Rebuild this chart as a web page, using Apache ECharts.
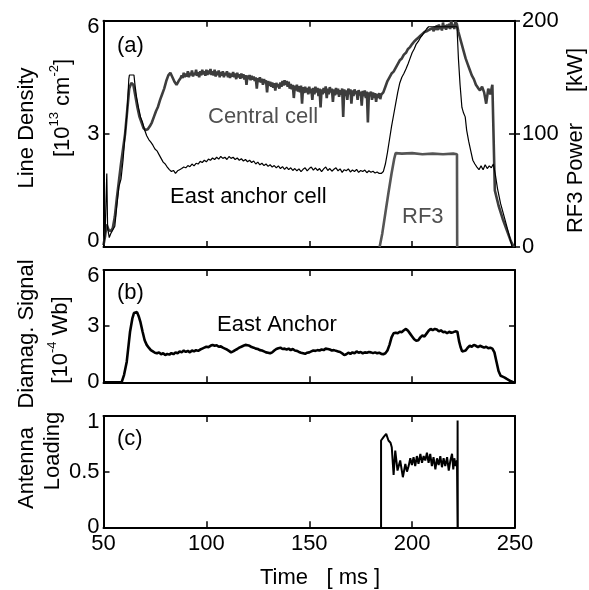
<!DOCTYPE html>
<html>
<head>
<meta charset="utf-8">
<script src="https://cdn.jsdelivr.net/npm/echarts@6/dist/echarts.min.js"></script>
<style>html,body{margin:0;padding:0;background:#fff;}#c{width:589px;height:590px;}</style>
</head>
<body>
<div id="c"></div>
<script>
// ---- tick labels ----
const timeTicks = [50, 100, 150, 200, 250];
const densityTicks = [0, 3, 6];
const rf3PowerTicks = [0, 100, 200];
const diamagTicks = [0, 3, 6];
const loadingTicks = [0, 0.5, 1];

// ---- (a) Central cell line density [1e13 cm^-2] : [time ms, value] ----
const centralCell = [
[50,0.05],[50.8,0.3],[51.5,0.6],[52.5,0.45],[53.5,0.42],[54.5,0.5],[55.5,0.8],[56.5,1.3],[57.5,1.75],[58.5,2.2],[59.5,2.6],[60.5,3.0],[61.5,3.6],[62.5,4.2],[63.5,4.35],[64.5,4.3],[65.5,4.0],[66.5,3.7],[67.5,3.45],[68.5,3.3],[69.5,3.15],[70.5,3.1],[71.5,3.12],[72.5,3.2],[73.5,3.3],[74.5,3.45],[75.5,3.6],[76.5,3.72],[77.5,3.9],[78.5,4.05],[79.5,4.2],[80.5,4.4],[81.5,4.55],[82.5,4.62],[83.5,4.5],[84.5,4.38],[85.5,4.3],[86.5,4.4],[87.5,4.48],
[88,4.55],[88.5,4.48],[89,4.62],[89.5,4.5],[90,4.6],[90.5,4.52],[91,4.66],[91.5,4.5],[92,4.62],[92.5,4.55],[93,4.68],[93.5,4.52],[94,4.62],[94.5,4.56],[95,4.7],[95.5,4.54],[96,4.63],[96.5,4.5],[97,4.66],[97.5,4.55],[98,4.7],[98.5,4.58],[99,4.66],[99.5,4.54],[100,4.7],[100.5,4.56],[101,4.68],[101.5,4.58],[102,4.72],[102.5,4.56],[103,4.66],[103.5,4.55],[104,4.7],[104.5,4.52],[105,4.65],[105.5,4.56],[106,4.68],[106.5,4.5],[107,4.64],[107.5,4.54],[108,4.66],[108.5,4.5],[109,4.62],[109.5,4.55],[110,4.66],[110.5,4.5],[111,4.62],[111.5,4.48],[112,4.6],[112.5,4.52],[113,4.64],[113.5,4.5],[114,4.6],[114.5,4.45],[115,4.62],[115.5,4.5],[116,4.58],[116.5,4.46],[117,4.6],[117.5,4.48],[118,4.58],[118.5,4.44],[119,4.56],[119.5,4.3],[120,4.55],[120.5,4.45],[121,4.56],[121.5,4.42],[122,4.54],[122.5,4.44],[123,4.52],[123.5,4.4],[124,4.5],[124.5,4.2],[125,4.48],[125.5,4.38],[126,4.5],[126.5,4.36],[127,4.46],[127.5,4.3],[128,4.45],[128.5,4.35],[129,4.42],[129.5,4.1],[130,4.4],[130.5,4.28],[131,4.38],[131.5,4.25],[132,4.36],[132.5,4.22],[133,4.34],[133.5,4.15],[134,4.35],[134.5,4.24],[135,4.32],[135.5,4.2],[136,4.36],[136.5,4.25],[137,4.4],[137.5,4.28],[138,4.42],[138.5,4.3],[139,4.4],[139.5,4.25],[140,4.38],[140.5,4.2],[141,4.32],[141.5,4.18],[142,4.3],[142.5,3.95],[143,4.28],[143.5,4.15],[144,4.3],[144.5,4.12],[145,4.26],[145.5,4.1],[146,4.28],[146.5,3.8],[147,4.24],[147.5,4.08],[148,4.25],[148.5,4.1],[149,4.22],[149.5,4.05],[150,4.25],[150.5,4.08],[151,4.2],[151.5,3.9],[152,4.22],[152.5,4.05],[153,4.25],[153.5,4.1],[154,4.22],[154.5,4.0],[155,4.2],[155.5,3.7],[156,4.18],[156.5,4.05],[157,4.22],[157.5,4.08],[158,4.26],[158.5,3.95],[159,4.2],[159.5,4.05],[160,4.24],[160.5,4.1],[161,4.2],[161.5,3.85],[162,4.18],[162.5,4.02],[163,4.22],[163.5,4.05],[164,4.2],[164.5,3.98],[165,4.16],[165.5,4.04],[166,4.2],[166.5,3.45],[167,4.18],[167.5,4.0],[168,4.15],[168.5,3.9],[169,4.2],[169.5,4.05],[170,4.18],[170.5,3.8],[171,4.15],[171.5,4.0],[172,4.18],[172.5,4.05],[173,4.14],[173.5,3.9],[174,4.16],[174.5,4.02],[175,4.12],[175.5,3.75],[176,4.14],[176.5,4.0],[177,4.15],[177.5,3.95],[178,4.12],[178.5,3.3],[179,4.1],[179.5,4.0],[180,4.12],[180.5,3.9],[181,4.1],[181.5,3.95],[182,4.08],[182.5,3.85],[183,4.06],[183.5,3.95],[184,4.08],[184.5,3.92],[185,4.04],[185.5,4.0],
[186,4.1],[187,4.25],[188,4.4],[189,4.5],[190,4.6],[191,4.65],[192,4.75],[193,4.85],[194,4.95],[195,5.0],[196,5.1],[197,5.15],[198,5.25],[199,5.3],[200,5.38],[201,5.45],[202,5.5],[203,5.55],[204,5.6],[205,5.65],[206,5.7],[207,5.72],[208,5.75],[209,5.78],[210,5.8],[210.5,5.72],[211,5.85],[211.5,5.76],[212,5.88],[212.5,5.75],[213,5.9],[213.5,5.78],[214,5.86],[214.5,5.74],[215,5.95],[215.5,5.8],[216,5.88],[216.5,5.76],[217,5.9],[217.5,5.8],[218,5.92],[218.5,5.78],[219,6.0],[219.5,5.82],[220,5.9],[220.5,5.78],[221,5.98],[221.8,5.9],
[222.5,5.7],[224,5.4],[225,5.2],[226,5.0],[227,4.85],[228,4.7],[229,4.55],[230,4.45],[231,4.3],[232,4.22],[233,4.15],[234,4.25],[235,4.1],[236,3.8],[237,4.2],[238,4.05],[239,4.3],[239.8,4.25],[240.2,1.5],[242,1.1],[244,0.75],[246,0.45],[248,0.15],[249.5,0.0]
];

// ---- (a) East anchor cell line density ----
const eastAnchorCell = [
[50,0],[50.8,0.4],[51.6,1.95],[52.0,0.5],[52.8,0.25],[53.5,0.35],[54.5,0.45],[55.5,0.55],[56.5,1.1],[57.5,1.6],[58.5,1.8],[59.5,2.3],[60.5,3.0],[61.5,3.6],[62.3,4.45],[62.6,4.56],[64.8,4.56],[65.3,4.3],[66,4.0],[67,3.7],[68,3.45],[69,3.3],[70,3.1],[71,2.95],[72,2.85],[73,2.78],[74,2.7],[75,2.6],[76,2.55],[77,2.45],[78,2.35],[79,2.25],[80,2.2],[81,2.12],[82,2.05],[83,2.0],[84,2.03],[85,1.95],[86,2.02],[87,2.05],
[88,2.08],[89,2.12],[90,2.1],[91,2.16],[92,2.13],[93,2.2],[94,2.15],[95,2.22],[96,2.2],[97,2.27],[98,2.24],[99,2.3],[100,2.26],[101,2.33],[102,2.3],[103,2.36],[104,2.32],[105,2.38],[106,2.33],[107,2.4],[108,2.35],[109,2.38],[110,2.32],[111,2.4],[112,2.35],[113,2.38],[114,2.32],[115,2.36],[116,2.3],[117,2.34],[118,2.28],[119,2.32],[120,2.26],[121,2.3],[122,2.24],[123,2.28],[124,2.2],[125,2.25],[126,2.18],[127,2.22],[128,2.16],[129,2.2],[130,2.14],[131,2.18],[132,2.12],[133,2.16],[134,2.1],[135,2.15],[136,2.08],[137,2.13],[138,2.06],[139,2.12],[140,2.05],[141,2.1],[142,2.03],[143,2.08],[144,2.02],[145,2.07],[146,2.0],[147,2.06],[148,2.1],[149,2.02],[150,2.08],[151,2.12],[152,2.04],[153,2.1],[154,2.03],[155,2.08],[156,2.0],[157,2.07],[158,2.12],[159,2.03],[160,2.08],[161,2.01],[162,2.06],[163,2.1],[164,2.02],[165,2.07],[166,1.98],[167,2.05],[168,2.02],[169,2.07],[170,1.99],[171,2.04],[172,2.0],[173,2.06],[174,1.98],[175,2.03],[176,2.0],[177,2.04],[178,1.97],[179,2.02],[180,1.98],[181,2.01],[182,1.96],[183,1.99],[184,1.95],[185,1.95],
[186,2.0],[187,2.2],[188,2.5],[189,2.85],[190,3.2],[191,3.5],[192,3.8],[193,4.1],[194,4.35],[195,4.5],[196,4.6],[197,4.72],[198,4.85],[199,5.0],[200,5.15],[201,5.25],[202,5.38],[203,5.45],[204,5.55],[205,5.62],[206,5.7],[207,5.78],[208,5.84],[221.8,5.84],
[222.5,5.0],[223.3,4.3],[224.2,3.7],[225,3.55],[225.8,3.45],[226.5,3.1],[227.5,2.8],[228.5,2.55],[229.5,2.3],[230.5,2.2],[231.5,2.12],[232.5,2.05],[233.5,2.15],[234.5,2.05],[235.5,2.18],[236.5,2.08],[237.5,2.15],[238.5,2.1],[239.5,2.2],[240.5,1.9],[241.5,1.55],[243,1.15],[245,0.75],[247,0.35],[248.6,0.0]
];

// ---- (a) RF3 power [kW] ----
const rf3Power = [
[184.2,0],[185.5,12],[187,30],[188.5,48],[190,65],[191.3,78],[192,83],[195,82.5],[200,83],[205,82],[210,82.5],[215,82],[220,82.5],[221.8,82],[221.9,0]
];

// ---- (b) East anchor diamagnetic signal [1e-4 Wb] ----
const diamagSignal = [
[50,0],[58.8,0],[60,0.4],[61.3,1.1],[62.2,2.0],[62.9,2.7],[64,3.4],[64.8,3.7],[65.5,3.8],[66.3,3.75],[67.2,3.5],[68,3.2],[69,2.7],[70,2.25],[71,2.0],[72,1.85],[73,1.72],[74,1.65],[75,1.58],[76,1.55],[77,1.6],[78,1.5],[79,1.55],[80,1.45],[81,1.52],[82,1.48],[83,1.56],[84,1.5],[85,1.6],[86,1.55],[87,1.65],[88,1.6],[89,1.7],[90,1.62],[91,1.68],[92,1.6],[93,1.7],[94,1.65],[95,1.72],[96,1.68],[97,1.75],[98,1.8],[99,1.85],[100,1.9],[101,1.88],[102,1.95],[103,2.0],[104,1.95],[105,1.98],[106,1.9],[107,1.92],[108,1.85],[109,1.8],[110,1.75],[111,1.68],[112,1.6],[113,1.65],[114,1.72],[115,1.78],[116,1.85],[117,1.9],[118,1.95],[119,2.0],[120,1.98],[121,1.95],[122,1.88],[123,1.85],[124,1.8],[125,1.78],[126,1.72],[127,1.7],[128,1.65],[129,1.6],[130,1.58],[131,1.55],[132,1.6],[133,1.7],[134,1.78],[135,1.82],[136,1.85],[137,1.78],[138,1.8],[139,1.75],[140,1.8],[141,1.72],[142,1.78],[143,1.7],[144,1.68],[145,1.62],[146,1.58],[147,1.55],[148,1.52],[149,1.58],[150,1.6],[151,1.65],[152,1.7],[153,1.68],[154,1.72],[155,1.7],[156,1.75],[157,1.72],[158,1.8],[159,1.78],[160,1.75],[161,1.7],[162,1.72],[163,1.68],[164,1.65],[165,1.62],[166,1.55],[167,1.45],[168,1.5],[169,1.58],[170,1.52],[171,1.6],[172,1.55],[173,1.65],[174,1.58],[175,1.62],[176,1.55],[177,1.6],[178,1.58],[179,1.62],[180,1.6],[181,1.56],[182,1.6],[183,1.55],[184,1.58],[185,1.52],[186,1.5],[187,1.55],[188,1.7],[189,2.0],[190,2.4],[191,2.62],[192,2.65],[193,2.62],[194,2.7],[195,2.68],[196,2.78],[197,2.85],[198,2.75],[199,2.6],[200,2.45],[201,2.3],[202,2.22],[203,2.25],[204,2.4],[205,2.5],[206,2.45],[207,2.6],[208,2.75],[209,2.85],[210,2.78],[211,2.85],[212,2.82],[213,2.72],[214,2.78],[215,2.68],[216,2.7],[217,2.62],[218,2.7],[219,2.65],[220,2.68],[221,2.72],[222,2.7],[222.8,2.2],[223.5,1.9],[224.3,1.65],[225,1.55],[226,1.7],[227,1.85],[228,1.95],[229,1.9],[230,2.0],[231,1.95],[232,1.88],[233,1.95],[234,1.9],[235,1.85],[236,1.9],[237,1.82],[238,1.85],[239,1.8],[240,1.6],[241,1.1],[242,0.6],[243,0.35],[244,0.3],[245,0.25],[246,0.18],[247,0.12],[248,0.05],[249,0.02],[250,0]
];

// ---- (c) Antenna loading ----
const antennaLoading = [
[184.9,0],[184.9,0.78],[186.1,0.81],[187.4,0.84],[188.5,0.78],[189.5,0.76],[190.1,0.72],[191,0.47],[191.8,0.69],[192.9,0.51],[194.2,0.6],[195.5,0.45],[196.7,0.57],[197.5,0.5],[198.3,0.55],[199.1,0.62],[199.9,0.56],[200.7,0.63],[201.5,0.55],[202.3,0.64],[203.1,0.57],[204,0.66],[204.8,0.58],[205.6,0.64],[206.4,0.6],[207.2,0.67],[208,0.58],[208.8,0.66],[209.6,0.55],[210.4,0.63],[211.3,0.52],[212.1,0.62],[212.9,0.56],[213.7,0.64],[214.5,0.54],[215.3,0.62],[216.1,0.55],[217,0.63],[217.8,0.51],[218.6,0.6],[219.4,0.66],[220,0.52],[220.5,0.62],[221.2,0.55],[221.8,0.6],[222.1,0],[222.1,0.96],[222.2,0]
];

// ================= chart =================
const FONT = '"Liberation Sans", Arial, sans-serif';
const FS = 22;
const BLACK = '#000';
const GRAY_LINE = '#3d3d3d';
const GRAY_RF = '#555';
const GRAY_TEXT = '#505050';

const L = 103.5, W = 411.5;
const grids = [
  {left: L, top: 20.7, width: W, height: 226.3},
  {left: L, top: 270, width: W, height: 112.3},
  {left: L, top: 416, width: W, height: 111.3}
].map(g => Object.assign({containLabel: false, outerBoundsMode: 'none', show: false}, g));

const lineStyle = {color: BLACK, width: 2};
const tickStyle = {color: BLACK, width: 1.5};

function xAx(gridIndex, position, showLabel) {
  return {
    type: 'value', gridIndex, position, min: timeTicks[0], max: timeTicks[timeTicks.length - 1],
    interval: timeTicks[1] - timeTicks[0],
    axisLine: {show: true, onZero: false, lineStyle},
    axisTick: {show: true, inside: true, length: 6, lineStyle: tickStyle},
    axisLabel: {show: showLabel, color: BLACK, fontFamily: FONT, fontSize: FS, margin: 6},
    splitLine: {show: false}
  };
}
function yAx(gridIndex, position, ticks, showLabel, extra) {
  return Object.assign({
    type: 'value', gridIndex, position, min: ticks[0], max: ticks[ticks.length - 1],
    interval: ticks[1] - ticks[0],
    axisLine: {show: true, onZero: false, lineStyle},
    axisTick: {show: true, inside: true, length: 6, lineStyle: tickStyle},
    axisLabel: {show: showLabel, color: BLACK, fontFamily: FONT, fontSize: FS, margin: 4, lineHeight: 12},
    splitLine: {show: false}
  }, extra || {});
}

const xAxis = [
  xAx(0, 'bottom', false), xAx(0, 'top', false),
  xAx(1, 'bottom', false), xAx(1, 'top', false),
  xAx(2, 'bottom', true), xAx(2, 'top', false)
];
const yAxis = [
  yAx(0, 'left', densityTicks, true),
  yAx(0, 'right', rf3PowerTicks, true),
  yAx(0, 'right', rf3PowerTicks, false, {axisLine: {show: false}, axisTick: {show: true, inside: false, length: 5, lineStyle: tickStyle}}),
  yAx(1, 'left', diamagTicks, true),
  yAx(1, 'right', diamagTicks, false),
  yAx(2, 'left', loadingTicks, true),
  yAx(2, 'right', loadingTicks, false)
];
yAxis[0].axisLabel.verticalAlignMaxLabel = 'top';
yAxis[0].axisLabel.verticalAlignMinLabel = 'bottom';
yAxis[1].axisLabel.margin = 7;
yAxis[3].axisLabel.verticalAlignMaxLabel = 'top';
yAxis[5].axisLabel.verticalAlignMaxLabel = 'top';

function ln(name, data, xi, yi, color, width) {
  return {name, type: 'line', data, xAxisIndex: xi, yAxisIndex: yi, showSymbol: false, symbol: 'none',
    lineStyle: {color, width}, itemStyle: {color}, silent: true, clip: true, animation: false};
}
const series = [
  ln('Central cell', centralCell, 0, 0, GRAY_LINE, 2.6),
  ln('RF3', rf3Power, 0, 1, GRAY_RF, 2.6),
  ln('East anchor cell', eastAnchorCell, 0, 0, BLACK, 1.2),
  ln('East Anchor', diamagSignal, 2, 3, BLACK, 2.6),
  ln('Antenna Loading', antennaLoading, 4, 5, BLACK, 2)
];

function txt(text, x, y, opts) {
  opts = opts || {};
  return {
    type: 'text', x, y, rotation: opts.rot || 0, silent: true, z: 100,
    style: Object.assign({
      text, x: 0, y: 0, fill: opts.color || BLACK, font: FS + 'px ' + FONT,
      fontSize: FS, fontFamily: FONT,
      textAlign: opts.align || 'left', align: opts.align || 'left',
      textVerticalAlign: 'middle', verticalAlign: 'middle'
    }, opts.rich ? {rich: opts.rich} : {})
  };
}
const supRich = {
  n: {fontSize: FS, fontFamily: FONT, fill: BLACK, color: BLACK, lineHeight: 26, verticalAlign: 'bottom'},
  s: {fontSize: 13, fontFamily: FONT, fill: BLACK, color: BLACK, lineHeight: 26, verticalAlign: 'top'}
};
const R = Math.PI / 2;
const graphic = [
  txt('(a)', 117, 46),
  txt('Central cell', 208, 117, {color: GRAY_TEXT}),
  txt('East anchor cell', 170, 197),
  txt('RF3', 402, 217, {color: GRAY_TEXT}),
  txt('(b)', 117, 293),
  txt('East Anchor', 217, 325),
  txt('(c)', 117, 439),
  txt('Time   [ ms ]', 260, 578),
  txt('Line Density', 27, 128, {rot: R, align: 'center'}),
  txt('{n|[10}{s|13}{n| cm}{s|-2}{n|]}', 61, 108, {rot: R, align: 'center', rich: supRich}),
  txt('Diamag. Signal', 27, 334, {rot: R, align: 'center'}),
  txt('{n|[10}{s|-4}{n| Wb]}', 59, 340, {rot: R, align: 'center', rich: supRich}),
  txt('Antenna', 27, 468, {rot: R, align: 'center'}),
  txt('Loading', 53, 451, {rot: R, align: 'center'}),
  txt('RF3 Power', 576, 178, {rot: R, align: 'center'}),
  txt('[kW]', 576, 70, {rot: R, align: 'center'})
];

const chart = echarts.init(document.getElementById('c'), null, {renderer: 'canvas'});
chart.setOption({
  animation: false,
  backgroundColor: '#fff',
  textStyle: {fontFamily: FONT},
  grid: grids,
  xAxis, yAxis, series, graphic
});
</script>
</body>
</html>
